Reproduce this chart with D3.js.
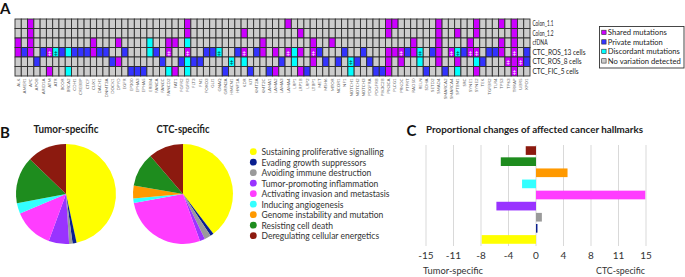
<!DOCTYPE html>
<html><head><meta charset="utf-8">
<script src="https://cdn.jsdelivr.net/npm/d3@7"></script>
<style>body{margin:0;background:#fff}svg{display:block}text{font-family:Lato,"Open Sans",sans-serif}</style>
</head><body><svg id="c" width="685" height="277"></svg>
<script>
// ---------- DATA ----------
const genes = ["ALK","AMER1","APC","APOB","ARID1A","ATM","ATR","BCOR","BRCA2","CDH1","CREBBP","CTCF","CUX1","DACH1","DNMT3A","DOCK1","DPYD","EGFR","EP300","EPHA3","EPHA5","ERBB4","FANCA","FANCC","FANCD2","FAT1","FGFR2","FGFR3","FLT3","FN1","FOXO3","GLI1","GNAQ","GRIN2A","HMCN1","HNF1A","KDR","KIT","KMT2A","KMT2C","LAMA1","LAMA2","LAMA3","LAMA4","LRP1","LRP1B","LRP2","LTBP1","MET","MSH6","MTOR","NCOR1","NF1","NOTCH1","NOTCH2","NOTCH3","PDGFRA","PDGFRB","PIK3C2B","PIK3CA","PLCG1","PRKDC","PTPRT","RAD50","RELN","SDHA","SETD2","SMAD4","SMARCA2","SMARCA4","SPTBN1","SRC","SYNE1","SYNE2","TEK","TGFBR2","TLR4","TP53","TP63","TRRAP","UBR5","XPO1"];
const samples = ["Colon_1.1","Colon_1.2","cfDNA","CTC_ROS_13 cells","CTC_ROS_8 cells","CTC_FIC_5 cells"];
// status code + gene index (S shared, P private, D discordant; lowercase = marked ‡)
const colon11  = "S2 S27 S43 S59 S60 S67 S73 S77 S79";
const colon12  = "S2 S27 S36 S45 S59 S67 S70 S73 S79";
const cfDNA    = "S0 S2 S12 S16 D21 S24 S25 D27 S39 S47 S50 S63 S67 S72 S77 S79";
const ctcRos13 = "S0 P1 S2 P4 s5 d6 P7 D8 P9 P10 P11 S12 P13 P14 P17 D21 P22 s24 s27 P30 P31 d32 P35 s36 P38 S39 S41 s43 D44 S45 s47 P48 P52 P55 S59 S60 s61 P62 S63 d64 P66 S67 s69 d70 P71 s72 s73 P75 P76 S77 s79 P81";
const ctcRos8  = "P3 P15 S16 P23 P26 D27 P28 P29 d34 D36 P42 D44 S47 P49 P51 d53 P54 P56 S59 S61 D64 S67 S70 D73 P74 s78 S79 s80 P81";
const ctcFic5  = "S5 D8 P18 P19 P20 D24 S25 D27 P33 P37 P40 S41 S45 P46 D53 P57 P58 S59 P65 P68 D70 S73 s79";
const statusLegend = ["Shared mutations","Private mutation","Discordant mutations","No variation detected"];

const hallmarks = ["Sustaining proliferative signalling","Evading growth suppressors","Avoiding immune destruction","Tumor-promoting inflammation","Activating invasion and metastasis","Inducing angiogenesis","Genome instability and mutation","Resisting cell death","Deregulating cellular energetics"];
const tumorShare = [46.6, 1.3, 1.1, 6.6, 13.0, 3.4, 0, 15.2, 12.8];
const ctcShare   = [39.6, 1.1, 2.1, 1.7, 27.6, 1.5, 4.1, 11.0, 11.3];
const change     = [-7.4, 0.2, 0.8, -5.4, 14.9, -1.9, 4.3, -4.8, -1.4];
const changeTicks = [-15, -11.25, -7.5, -3.75, 0, 3.75, 7.5, 11.25, 15];

// ---------- STYLE ----------
const statusColor = {S:"#cc00ff", P:"#3333ff", D:"#00ffff", N:"#cccccc"};
const hallColor = ["#ffff00","#0a1f8f","#9a9a9a","#9933ff","#ff3dff","#33ffff","#ff9900","#1e8c1e","#8c1a0f"];
const sampleLabelW = [21, 21, 15, 53, 49, 46];
const legendLabelW = [59, 55, 72, 73];

const svg = d3.select("#c");
function natW(str, size, weight){
  const t = svg.append("text").attr("font-size",size).attr("font-weight",weight).text(str);
  const cw = t.node().getComputedTextLength(); t.remove(); return cw;
}
// text squeezed to a Calibri-like width, keeping the glyph height
function label(sel, x, y, str, size, weight, width, anchor, fill){
  const t = sel.append("text").attr("x",x).attr("y",y).attr("font-size",size)
    .attr("font-weight",weight).attr("fill",fill||"#222").attr("text-anchor",anchor||"start").text(str);
  if (width) t.attr("textLength",width).attr("lengthAdjust","spacingAndGlyphs");
  return t;
}

// ---------- PANEL A ----------
const rowsRaw = [colon11, colon12, cfDNA, ctcRos13, ctcRos8, ctcFic5];
const cells = [];
samples.forEach((s,ri)=>{
  const m = {};
  rowsRaw[ri].split(" ").forEach(tok=>{ m[+tok.slice(1)] = tok[0]; });
  genes.forEach((g,gi)=>{
    const c = m[gi] || "N";
    cells.push({sample:s, gene:g, type:c.toUpperCase(), mark: c!==c.toUpperCase()});
  });
});
const xA = d3.scaleBand().domain(genes).range([15, 530]);
const yA = d3.scaleBand().domain(samples).range([19, 76]);
const gA = svg.append("g");
gA.selectAll("rect.cell").data(cells).join("rect").attr("class","cell")
  .attr("x",d=>xA(d.gene)).attr("y",d=>yA(d.sample))
  .attr("width",xA.bandwidth()).attr("height",yA.bandwidth())
  .attr("fill",d=>statusColor[d.type]).attr("stroke","#2e2e2e").attr("stroke-width",0.9);
gA.selectAll("text.mark").data(cells.filter(d=>d.mark)).join("text").attr("class","mark")
  .attr("x",d=>xA(d.gene)+xA.bandwidth()/2).attr("y",d=>yA(d.sample)+yA.bandwidth()/2+2.3)
  .attr("text-anchor","middle").attr("font-size",6.5)
  .attr("fill",d=>d.type==="D"?"#003a3a":"#ffffff").text("‡");
gA.selectAll("text.gene").data(genes).join("text").attr("class","gene")
  .attr("transform",d=>`translate(${xA(d)+xA.bandwidth()/2+1.5},78.5) rotate(-90)`)
  .attr("text-anchor","end").attr("font-size",4.4).attr("fill","#666").text(d=>d);
samples.forEach((s,i)=>{
  label(gA, 532.5, yA(s)+yA.bandwidth()/2+2.7, s, 7.8, 400, sampleLabelW[i], "start", "#222");
});
// legend box
svg.append("rect").attr("x",599.5).attr("y",26.5).attr("width",84.5).attr("height",41.5)
  .attr("fill","none").attr("stroke","#333").attr("stroke-width",0.9);
const legTypes = ["S","P","D","N"];
const yLeg = d3.scalePoint().domain(statusLegend).range([32.5, 61]);
statusLegend.forEach((l,i)=>{
  svg.append("rect").attr("x",601.7).attr("y",yLeg(l)-2.3).attr("width",4.4).attr("height",4.4)
    .attr("fill",statusColor[legTypes[i]]).attr("stroke","#333").attr("stroke-width",0.6);
  label(svg, 607.8, yLeg(l)+2.6, l, 8, 400, legendLabelW[i], "start", "#222");
});
label(svg, 0, 13.5, "A", 15, 700, null, "start", "#111");

// ---------- PANEL B ----------
label(svg, 0, 137.5, "B", 15, 700, null, "start", "#111");
const pie = d3.pie().sort(null).value(d=>d);
const arc = d3.arc().innerRadius(0).outerRadius(50);
[[tumorShare,66,"Tumor-specific",65],[ctcShare,183,"CTC-specific",53]].forEach(([vals,cx,title,w])=>{
  const g = svg.append("g").attr("transform",`translate(${cx},194)`);
  g.selectAll("path").data(pie(vals)).join("path").attr("d",arc).attr("fill",(d,i)=>hallColor[i]);
  label(svg, cx, 132.5, title, 10.8, 700, w, "middle", "#222");
});
const yHl = d3.scalePoint().domain(hallmarks).range([151.7, 235.7]);
hallmarks.forEach((h,i)=>{
  svg.append("circle").attr("cx",253.3).attr("cy",yHl(h)).attr("r",3.4).attr("fill",hallColor[i]);
  label(svg, 261.5, yHl(h)+3.4, h, 9.8, 400, natW(h,9.8,400)*0.87, "start", "#333");
});

// ---------- PANEL C ----------
label(svg, 406.5, 136, "C", 15, 700, null, "start", "#111");
label(svg, 426, 132.5, "Proportional changes of affected cancer hallmarks", 10.3, 700, 217, "start", "#222");
const xC = d3.scaleLinear().domain([-15,15]).range([426,646]);
const yC = d3.scaleBand().domain(hallmarks.slice().reverse()).range([145,245]).paddingInner(0.22).paddingOuter(0.11);
const gC = svg.append("g");
gC.selectAll("line.grid").data(changeTicks).join("line").attr("class","grid")
  .attr("x1",d=>xC(d)).attr("x2",d=>xC(d)).attr("y1",145).attr("y2",246)
  .attr("stroke","#d9d9d9").attr("stroke-width",1);
gC.selectAll("rect.bar").data(hallmarks).join("rect").attr("class","bar")
  .attr("x",(h,i)=>xC(Math.min(0,change[i]))).attr("y",h=>yC(h))
  .attr("width",(h,i)=>Math.abs(xC(change[i])-xC(0))).attr("height",yC.bandwidth())
  .attr("fill",(h,i)=>hallColor[i]);
const fmt = v => (v<0?"-":"")+Math.round(Math.abs(v));
gC.selectAll("text.tick").data(changeTicks).join("text").attr("class","tick")
  .attr("x",d=>xC(d)).attr("y",258.5).attr("text-anchor","middle").attr("font-size",10).attr("fill","#333").text(fmt);
label(svg, 423, 273.5, "Tumor-specific", 10, 400, 60, "start", "#333");
label(svg, 645, 273.5, "CTC-specific", 10, 400, 49, "end", "#333");
</script></body></html>
